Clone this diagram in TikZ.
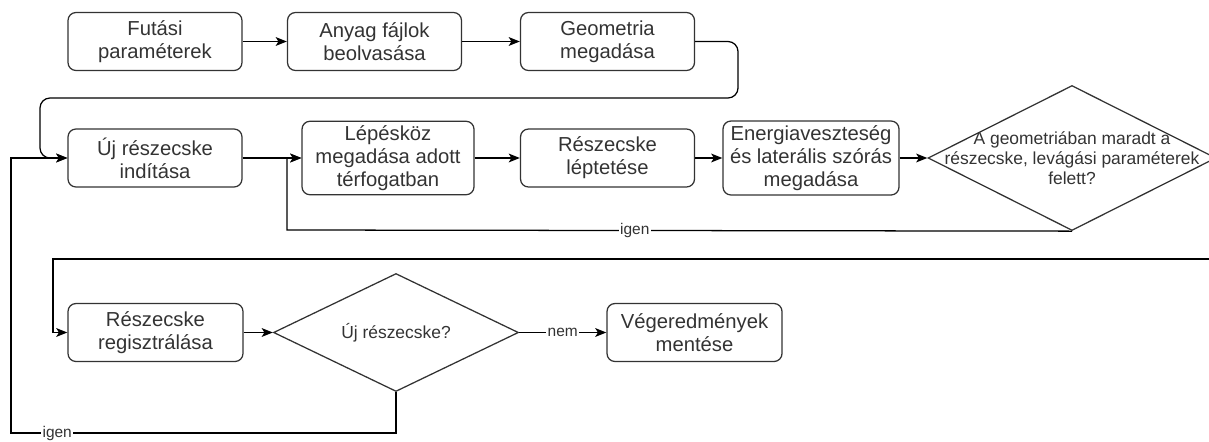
\documentclass[tikz,border=0pt]{standalone}
\usepackage{fontspec}
\setmainfont{Liberation Sans}
\usepackage{xcolor}
\usepackage{tikz}
\usetikzlibrary{arrows.meta}
\usetikzlibrary{shapes.geometric}

\begin{document}
\begin{tikzpicture}[
	folyamat/.style={rectangle, rounded corners=0.2cm, draw=black!80, line width=0.9pt, text=black!80, align=center, inner sep=0.1cm, minimum width=4.35cm, minimum height=1.45cm, font=\fontsize{14.4}{16.5}\selectfont},
	dontes/.style={diamond, aspect=2, draw=black!80, line width=0.9pt, inner sep=0pt, text=black!80, align=center, font=\fontsize{12.4}{14.2}\selectfont},
	nyil/.style={-{Stealth[length=2.8mm, width=2.2mm, inset=0.7mm]}, line width=0.9pt},
	felirat/.style={fill=white, inner sep=1pt, text=black!80, font=\fontsize{11}{13}\selectfont}]
	\newcommand\sorEgy{-1.0375}
	\newcommand\sorKetto{-3.95}
	\newcommand\sorHarom{-8.3125}
	\useasboundingbox (0,0) rectangle (30.225,-11.025);
	% elso sor
	\node[folyamat] (futasi)    at (3.875  ,\sorEgy){Futási\\paraméterek};
	\node[folyamat] (anyag)     at (9.3625 ,\sorEgy){Anyag fájlok\\beolvasása};
	\node[folyamat] (geometria) at (15.1875,\sorEgy){Geometria\\megadása};
	% masodik sor
	\node[folyamat] (ujreszecske) at (3.875  ,\sorKetto){Új részecske\\indítása};
	\node[folyamat, minimum width=4.3cm, minimum height=1.8cm] (lepeskoz) at (9.7,\sorKetto){Lépésköz\\megadása adott\\térfogatban};
	\node[folyamat] (leptetes)    at (15.1875,\sorKetto){Részecske\\léptetése};
	\node[folyamat, minimum width=4.4cm, minimum height=1.85cm] (energia) at (20.275,\sorKetto){Energiaveszteség\\és laterális szórás\\megadása};
	\node[dontes, minimum width=7.2cm, minimum height=3.625cm] (dontes1) at (26.8,\sorKetto){};
	\node[text=black!80, align=center, font=\fontsize{12.4}{14.2}\selectfont] (dontes1szoveg) at (dontes1){A geometriában maradt a\\részecske, levágási paraméterek\\felett?};
	% harmadik sor
	\node[folyamat, minimum width=4.375cm] (regisztralas) at (3.8875,\sorHarom){Részecske\\regisztrálása};
	\node[dontes, minimum width=6.125cm, minimum height=2.95cm] (dontes2) at (9.9,\sorHarom){Új részecske?};
	\node[folyamat, minimum width=4.375cm] (vegeredmeny) at (17.3625,\sorHarom){Végeredmények\\mentése};
	% nyilak
	\draw[nyil] (futasi) -- (anyag);
	\draw[nyil] (anyag) -- (geometria);
	\coordinate (hurokA) at (18.45,-2.45);
	\coordinate (hurokB) at (1.0,-2.45);
	\draw[nyil, rounded corners=0.25cm] (geometria.east) -| (hurokA) -- (hurokB) |- (ujreszecske.west);
	\draw[nyil] (ujreszecske) -- (lepeskoz);
	\draw[nyil] (lepeskoz) -- (leptetes);
	\draw[nyil] (leptetes) -- (energia);
	\draw[nyil] (energia) -- (dontes1);
	\coordinate (igenA) at (7.175,-5.75);
	\draw[nyil] (dontes1.south) -- node[felirat, pos=0.557]{igen} (igenA) |- (lepeskoz.west);
	\coordinate (jobbszel) at (30.4,-6.475);
	\coordinate (visszaA) at (1.325,-6.475);
	\draw[nyil] (jobbszel) -- (visszaA) |- (regisztralas.west);
	\draw[nyil] (regisztralas) -- (dontes2);
	\draw[nyil] (dontes2) -- node[felirat]{nem} (vegeredmeny);
	\coordinate (alsoB) at (0.275,-10.825);
	\draw[nyil] (dontes2.south) |- node[felirat, pos=0.94]{igen} (alsoB) |- (ujreszecske.west);
\end{tikzpicture}
\end{document}
